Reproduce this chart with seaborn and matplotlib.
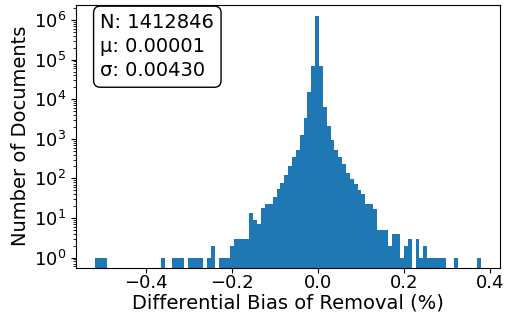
import numpy as np
import pandas as pd
import matplotlib
matplotlib.use("Agg")
import matplotlib.pyplot as plt
import seaborn as sns

# histogram range and per-bin document counts (100 equal bins)
x_min = -0.5186
x_max = 0.3794
counts = [
    1, 1, 1, 0, 0, 0, 0, 0, 0, 0,
    0, 0, 0, 0, 0, 0, 0, 1, 0, 0,
    1, 1, 1, 0, 1, 1, 1, 1, 0, 1,
    2, 0, 1, 1, 1, 2, 3, 3, 3, 3,
    13, 9, 7, 18, 22, 22, 33, 55, 78, 125,
    210, 345, 535, 1230, 3300, 15500, 68000, 1242364, 70000, 6300,
    2100, 940, 520, 350, 235, 140, 95, 72, 50, 40,
    23, 23, 17, 5, 5, 5, 2, 4, 4, 1,
    2, 3, 0, 3, 1, 2, 1, 1, 1, 1,
    1, 0, 0, 1, 0, 0, 0, 0, 0, 1,
]
stats_text = "N: 1412846\nμ: 0.00001\nσ: 0.00430"

edges = np.linspace(x_min, x_max, len(counts) + 1)
df = pd.DataFrame({
    "bias": (edges[:-1] + edges[1:]) / 2,
    "docs": counts,
})

plt.rcParams['font.family'] = ['DejaVu Sans']
fig = plt.figure(figsize=(5.05, 3.17), dpi=100)
ax = fig.add_axes([0.150, 0.156, 0.841, 0.828])

sns.histplot(data=df, x="bias", weights="docs", bins=list(edges), ax=ax,
             color='#1f77b4', alpha=1, linewidth=0)
ax.set_yscale('log')
ax.set_ylim(10 ** -0.253, 10 ** 6.38)
ax.set_xlim(-0.5635, 0.4243)
ax.set_xticks([-0.4, -0.2, 0.0, 0.2, 0.4])
ax.set_yticks([1, 10, 100, 1e3, 1e4, 1e5, 1e6])

ax.set_xlabel("Differential Bias of Removal (%)", fontsize=14, labelpad=1)
ax.set_ylabel("Number of Documents", fontsize=14, labelpad=3)
ax.tick_params(labelsize=13)
ax.tick_params(axis='x', pad=1.5)

ax.text(0.058, 0.97, stats_text, transform=ax.transAxes, fontsize=14,
        ha='left', va='top', linespacing=1.35,
        bbox=dict(boxstyle='round,pad=0.35', facecolor='white', edgecolor='black'))

fig.savefig("out.png", dpi=100)
